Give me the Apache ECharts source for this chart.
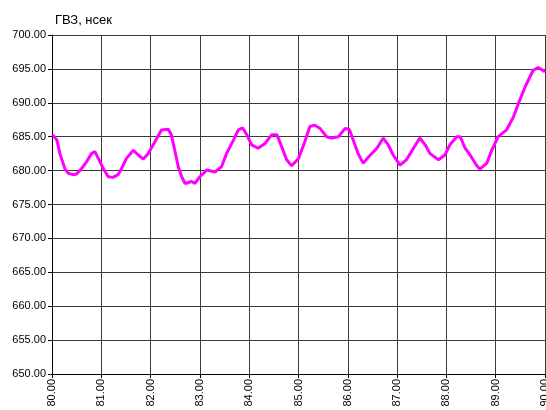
<!DOCTYPE html>
<html>
<head>
<meta charset="utf-8">
<script src="https://cdn.jsdelivr.net/npm/echarts@6/dist/echarts.min.js"></script>
<style>
  html, body { margin: 0; padding: 0; background: #fff; }
  #chart { width: 546px; height: 410px; }
</style>
</head>
<body>
<div id="chart"></div>
<script>
  // ГВЗ по времени
  var xValues = [
    80.01, 80.1, 80.16, 80.26, 80.33, 80.43, 80.5, 80.6, 80.7, 80.8, 80.87, 80.94,
    81.04, 81.14, 81.24, 81.34, 81.41, 81.51, 81.65, 81.75, 81.85, 81.95,
    82.09, 82.22, 82.36, 82.42, 82.49, 82.56, 82.63, 82.7, 82.83, 82.9,
    83.0, 83.14, 83.31, 83.44, 83.54, 83.68, 83.78, 83.87, 83.95,
    84.05, 84.18, 84.32, 84.46, 84.56, 84.66, 84.76, 84.86,
    85.0, 85.13, 85.23, 85.33, 85.44, 85.57, 85.67, 85.81, 85.94,
    86.03, 86.11, 86.21, 86.31, 86.42, 86.59, 86.72, 86.82, 86.92,
    87.06, 87.19, 87.29, 87.46, 87.57, 87.67, 87.84, 87.97,
    88.07, 88.21, 88.28, 88.38, 88.48, 88.61, 88.68, 88.82, 88.92,
    89.05, 89.22, 89.36, 89.46, 89.6, 89.76, 89.86, 90.0
  ];
  var gvzValues = [
    685.3, 684.5, 682.5, 680.3, 679.6, 679.4, 679.5, 680.3, 681.3, 682.5, 682.8, 681.8,
    680.3, 679.1, 679.0, 679.4, 680.3, 681.8, 683.0, 682.3, 681.7, 682.5,
    684.3, 686.0, 686.1, 685.3, 683.0, 680.6, 679.1, 678.1, 678.4, 678.1,
    679.1, 680.1, 679.8, 680.6, 682.5, 684.5, 686.0, 686.3, 685.3,
    683.8, 683.3, 684.0, 685.3, 685.3, 683.5, 681.6, 680.7,
    681.8, 684.3, 686.5, 686.7, 686.2, 685.0, 684.8, 685.0, 686.2,
    686.1, 684.5, 682.5, 681.1, 682.0, 683.3, 684.8, 683.8, 682.3,
    680.8, 681.6, 682.8, 684.8, 683.8, 682.5, 681.6, 682.3,
    683.8, 685.0, 685.0, 683.3, 682.3, 680.8, 680.2, 681.1, 683.0,
    685.0, 686.0, 687.9, 689.9, 692.4, 694.8, 695.2, 694.6
  ];

  var chartTitle = 'ГВЗ, нсек';

  var points = xValues.map(function (x, i) { return [x, gvzValues[i]]; });

  var myChart = echarts.init(document.getElementById('chart'));
  var fontFamily = '"Liberation Sans", Arial, sans-serif';
  var gridLine = { show: true, lineStyle: { color: '#3a3a3a', width: 1 } };

  myChart.setOption({
    animation: false,
    title: {
      text: chartTitle,
      left: 50,
      top: 9,
      textStyle: { fontFamily: fontFamily, fontSize: 13, fontWeight: 'normal', color: '#000' }
    },
    grid: { left: 52, right: 1, top: 35, bottom: 36, outerBoundsMode: 'none' },
    xAxis: {
      type: 'value',
      min: 80,
      max: 90,
      interval: 1,
      axisLine: { show: true, lineStyle: { color: '#000', width: 1 } },
      axisTick: { show: true, length: 4, lineStyle: { color: '#000' } },
      splitLine: gridLine,
      axisLabel: {
        rotate: 90,
        margin: 5,
        fontFamily: fontFamily,
        fontSize: 11,
        color: '#000',
        formatter: function (v) { return v.toFixed(2); }
      }
    },
    yAxis: {
      type: 'value',
      min: 650,
      max: 700,
      interval: 5,
      axisLine: { show: true, lineStyle: { color: '#000', width: 1 } },
      axisTick: { show: true, length: 4, lineStyle: { color: '#000' } },
      splitLine: gridLine,
      axisLabel: {
        margin: 6,
        fontFamily: fontFamily,
        fontSize: 11,
        color: '#000',
        formatter: function (v) { return v.toFixed(2); }
      }
    },
    series: [{
      type: 'line',
      data: points,
      showSymbol: false,
      smooth: false,
      lineStyle: { color: '#FF00FF', width: 3 }
    }]
  });
</script>
</body>
</html>
